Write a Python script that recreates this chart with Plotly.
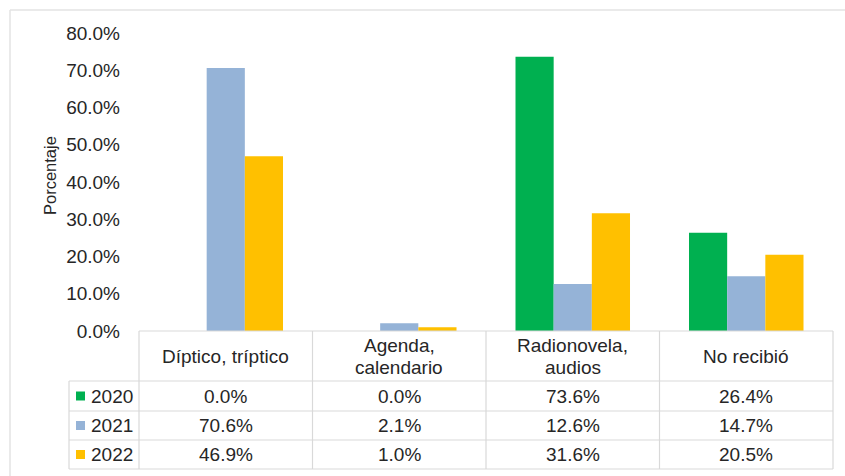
import plotly.graph_objects as go

# Data
categories = ["Díptico, tríptico", "Agenda, calendario", "Radionovela, audios", "No recibió"]
header_lines = [["Díptico, tríptico"], ["Agenda,", "calendario"], ["Radionovela,", "audios"], ["No recibió"]]
years = ["2020", "2021", "2022"]
values_2020 = [0.0, 0.0, 73.6, 26.4]
values_2021 = [70.6, 2.1, 12.6, 14.7]
values_2022 = [46.9, 1.0, 31.6, 20.5]
colors = ["#00B050", "#95B3D7", "#FFC000"]
series = [values_2020, values_2021, values_2022]

W, H = 845, 476
FONT = "Liberation Sans, Arial, sans-serif"
TEXT = "#262626"
GRID = "#D9D9D9"
FS = 19
LINE_H = 22


def px(x):
    return x / W


def py(y):
    return 1 - y / H


# Plot-area geometry (pixels)
left, right = 139, 833
top, base = 33, 331
row_edges = [331, 381, 411, 440, 469]
legend_left = 69
col_edges = [left + i * (right - left) / 4 for i in range(5)]

fig = go.Figure()
for name, vals, col in zip(years, series, colors):
    fig.add_trace(go.Bar(
        x=categories,
        y=[v / 100 for v in vals],
        name=name,
        marker=dict(color=col, line=dict(width=0)),
        showlegend=False,
    ))

shapes = []
# Outer frame (left and top edges)
shapes.append(dict(type="line", xref="paper", yref="paper",
                   x0=px(10), x1=px(845), y0=py(10), y1=py(10),
                   line=dict(color="#E3E3E3", width=1.5)))
shapes.append(dict(type="line", xref="paper", yref="paper",
                   x0=px(10), x1=px(10), y0=py(10), y1=py(476),
                   line=dict(color="#E3E3E3", width=1.5)))

# Data table grid
shapes.append(dict(type="line", xref="paper", yref="paper",
                   x0=px(left), x1=px(right), y0=py(row_edges[0]), y1=py(row_edges[0]),
                   line=dict(color=GRID, width=1.2)))
for ry in row_edges[1:]:
    shapes.append(dict(type="line", xref="paper", yref="paper",
                       x0=px(legend_left), x1=px(right), y0=py(ry), y1=py(ry),
                       line=dict(color=GRID, width=1.2)))
for cx in col_edges:
    shapes.append(dict(type="line", xref="paper", yref="paper",
                       x0=px(cx), x1=px(cx), y0=py(row_edges[0]), y1=py(row_edges[-1]),
                       line=dict(color=GRID, width=1.2)))
shapes.append(dict(type="line", xref="paper", yref="paper",
                   x0=px(legend_left), x1=px(legend_left), y0=py(row_edges[1]), y1=py(row_edges[-1]),
                   line=dict(color=GRID, width=1.2)))

annotations = []
# Header row (category names, one annotation per line)
for i, lines in enumerate(header_lines):
    cx = (col_edges[i] + col_edges[i + 1]) / 2
    cy = (row_edges[0] + row_edges[1]) / 2
    n = len(lines)
    for k, txt in enumerate(lines):
        ly = cy + (k - (n - 1) / 2) * LINE_H
        annotations.append(dict(xref="paper", yref="paper", x=px(cx), y=py(ly),
                                text=txt, showarrow=False, xanchor="center", yanchor="middle",
                                font=dict(family=FONT, size=FS, color=TEXT)))

# Series rows with legend keys
for r, (name, vals, col) in enumerate(zip(years, series, colors)):
    y0, y1 = row_edges[r + 1], row_edges[r + 2]
    cy = (y0 + y1) / 2
    shapes.append(dict(type="rect", xref="paper", yref="paper",
                       x0=px(76), x1=px(85), y0=py(cy - 4.5), y1=py(cy + 4.5),
                       fillcolor=col, line=dict(width=0)))
    annotations.append(dict(xref="paper", yref="paper", x=px(89), y=py(cy),
                            text=name, showarrow=False, xanchor="left", yanchor="middle",
                            font=dict(family=FONT, size=FS, color=TEXT)))
    for i, v in enumerate(vals):
        cx = (col_edges[i] + col_edges[i + 1]) / 2
        annotations.append(dict(xref="paper", yref="paper", x=px(cx), y=py(cy),
                                text=f"{v:.1f}%", showarrow=False, xanchor="center", yanchor="middle",
                                font=dict(family=FONT, size=FS, color=TEXT)))

# Axis title
annotations.append(dict(xref="paper", yref="paper", x=px(50), y=py(176),
                        text="Porcentaje", textangle=-90, showarrow=False,
                        xanchor="center", yanchor="middle",
                        font=dict(family=FONT, size=16.5, color=TEXT)))

fig.update_layout(
    width=W, height=H,
    margin=dict(l=0, r=0, t=0, b=0, pad=0, autoexpand=False),
    paper_bgcolor="white", plot_bgcolor="white",
    barmode="group", bargap=0.34, bargroupgap=0,
    shapes=shapes, annotations=annotations,
    xaxis=dict(domain=[px(left), px(right)], showticklabels=False, showgrid=False,
               zeroline=False, showline=False, ticks="", automargin=False),
    yaxis=dict(domain=[py(base), py(top)], range=[0, 0.8], dtick=0.1, tickformat=".1%",
               showgrid=False, zeroline=False, showline=False, ticks="",
               ticklabelstandoff=18, automargin=False,
               tickfont=dict(family=FONT, size=FS, color=TEXT)),
)

fig.write_html("out.html")
